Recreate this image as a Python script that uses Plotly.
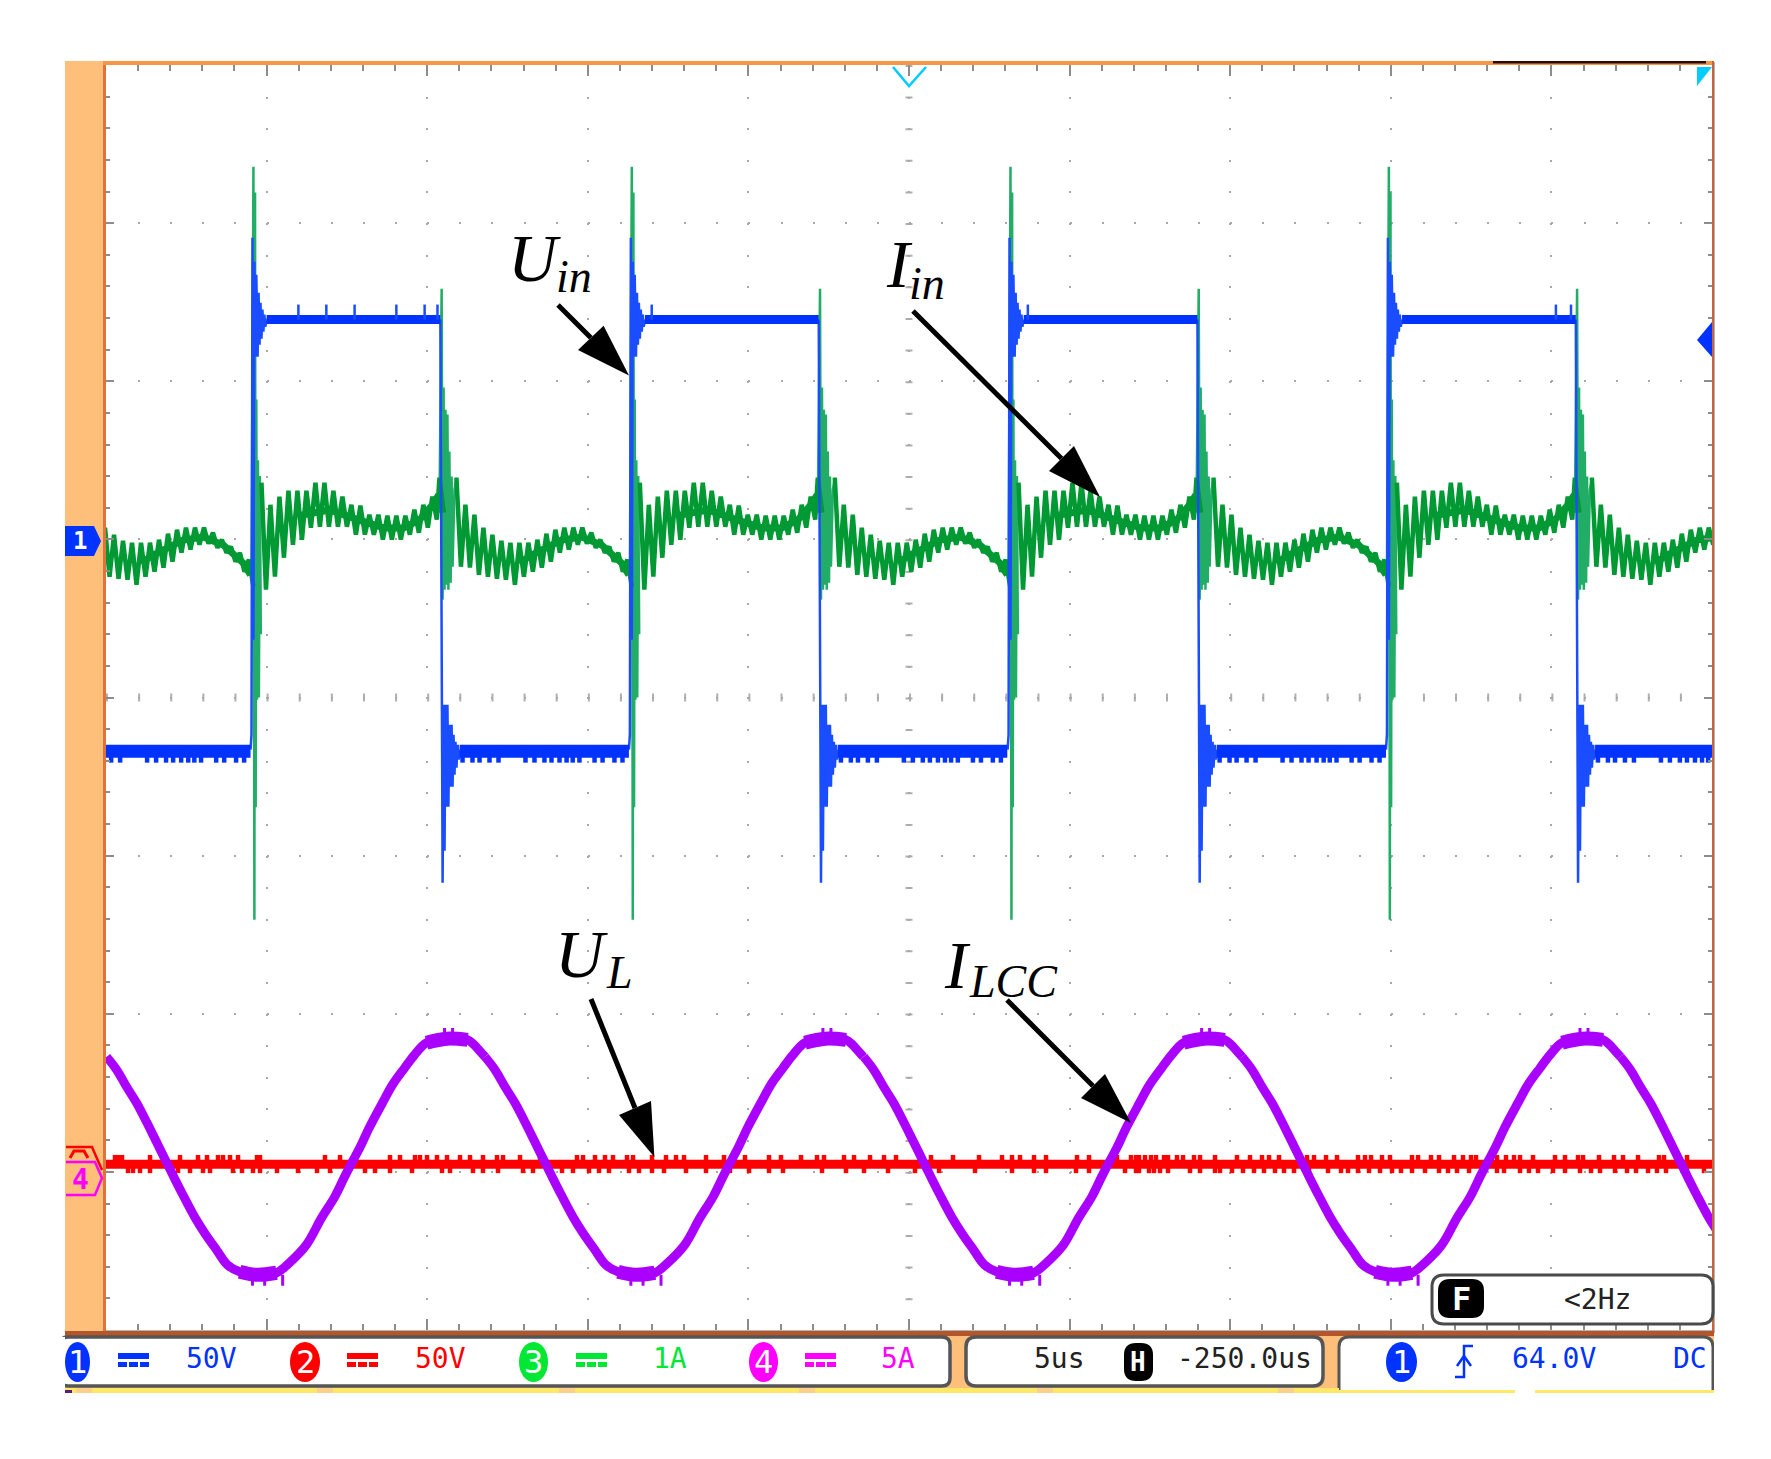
import plotly.graph_objects as go

W, H = 1771, 1459
L, R, T, B = 106, 1712, 65, 1330

# scope time axis: 5us/div, 10 div; vertical: 8 div, values in div from centre
RISE_US = [-7.22, 4.56, 16.34, 28.13, 39.91]   # read rising edges of Uin
SINE_START_US = [0, 11.78, 23.57, 35.35, 47.13]
US_PER_SAMPLE = 50 / 1606

# the trace repeats every switching period, so one period is read and reused
GREEN_OFF = [0.28, 0.56, 0.84, 1.12, 1.40, 1.68, 1.96, 2.24, 2.52, 2.80, 3.08, 3.36, 3.64, 3.92,
             4.20, 4.48, 4.76, 5.04, 5.32, 5.60, 5.82, 6.35, 6.63, 6.91, 7.19, 7.47, 7.75, 8.03,
             8.31, 8.59, 8.87, 9.15, 9.43, 9.71, 9.99, 10.27, 10.55, 10.83, 11.11, 11.39, 11.67]
GREEN_TOP = [1.359, 1.219, 1.270, 1.308, 1.308, 1.308, 1.359, 1.359, 1.308, 1.270, 1.219, 1.213,
             1.156, 1.156, 1.150, 1.150, 1.150, 1.188, 1.219, 1.270, 1.390, 1.390, 1.219, 1.156,
             1.074, 1.030, 0.992, 0.979, 0.979, 0.979, 0.998, 1.036, 1.061, 1.074, 1.074, 1.074,
             1.042, 0.998, 0.954, 0.916, 0.872]
GREEN_BOT = [0.682, 0.764, 0.884, 0.966, 0.998, 1.074, 1.080, 1.080, 1.080, 1.080, 1.030, 1.030,
             1.030, 0.998, 0.998, 0.998, 1.030, 1.042, 1.074, 1.125, 1.169, 0.827, 0.821, 0.776,
             0.764, 0.751, 0.745, 0.713, 0.764, 0.796, 0.821, 0.859, 0.916, 0.935, 0.966, 0.973,
             0.947, 0.916, 0.859, 0.796, 0.701]
GREEN_LAST_BEFORE_FALL = 5.82
# solid middle of the ripple band
GREEN_CORE_T = [1.46, 2.40, 3.30, 4.10, 4.70, 5.20, 5.60, 5.80, None, 8.31, 8.68, 9.62, 10.25, 10.87, 11.49, 11.72]
GREEN_CORE_V = [1.15, 1.186, 1.123, 1.072, 1.072, 1.123, 1.218, 1.281, None, 0.85, 0.90, 0.996, 1.015, 0.965, 0.851, 0.775]
GREEN_RISE_T = [-0.03, 0.03, 0.06, 0.08, 0.10, 0.12, 0.14, 0.17, 0.20, 0.23, 0.26]
GREEN_RISE_V = [0.764, 3.357, -1.405, 3.193, -0.694, 1.884, -0.014, 1.5, 0.0, 1.4, 0.4]
GREEN_FALL_T = [5.82, 5.89, 5.92, 5.95, 5.98, 6.01, 6.04, 6.07, 6.10, 6.13, 6.17, 6.20, 6.23, 6.29, 6.35]
GREEN_FALL_V = [1.169, 2.585, 0.619, 1.960, 0.682, 1.820, 0.713, 1.789, 0.682, 1.555, 0.726, 1.397,
                0.827, 1.314, 1.390]

BLUE_T = [-0.06, -0.03, 0.0, 0.03, 0.06, 0.09, 0.12, 0.16, 0.19, 0.22, 0.25, 0.28, 0.31, 0.34, 0.37,
          0.40, 0.44, None, 5.85, 5.88, 5.92, 5.95, 5.98, 6.01, 6.04, 6.07, 6.10, 6.13, 6.17, 6.20,
          6.23, 6.26, 6.29, 6.32, 6.35, 6.39, 6.42, 6.45]
BLUE_V = [-0.33, -0.235, 2.908, 0.366, 2.756, 2.155, 2.674, 2.155, 2.560, 2.231, 2.497, 2.269, 2.453,
          2.314, 2.421, 2.345, 2.390, None, 2.39, 1.2, -1.171, -0.046, -0.969, -0.046, -0.691, -0.046,
          -0.691, -0.172, -0.564, -0.172, -0.564, -0.235, -0.488, -0.280, -0.444, -0.299, -0.393, -0.33]
BLUE_HIGH = 2.39
BLUE_LOW = -0.34
BLUE_HIGH_SPAN = [0.44, 5.85]
BLUE_LOW_SPAN = [6.45, 11.72]
BLUE_HIGH_TEETH = [5.99, 6.86, 7.74, 9.04, 9.92, 10.32, 16.99, 28.70, 45.14, 45.61]
BLUE_HIGH_TOOTH_TOP = 2.485
BLUE_LOW_TEETH = [6.54, 6.85, 7.07, 7.38, 7.66, 8.50, 8.78, 9.09, 9.31, 9.56, 9.78, 9.97, 10.18,
                  10.65, 10.90, 11.27, 11.52]
BLUE_LOW_TOOTH_END = -0.412

RED_LEVEL = -2.951
RED_TOOTH_TOP = -2.893
RED_TOOTH_BOT = -3.008
RED_TOP_SAMPLES = [9, 12, 16, 44, 74, 92, 101, 112, 117, 124, 132, 151, 154, 219, 234, 284, 294, 309,
                   314, 321, 331, 341, 354, 364, 377, 391, 397, 414, 434, 471, 477, 489, 499, 507,
                   521, 527, 546, 560, 570, 578, 600, 618, 639, 663, 675, 695, 711, 718, 738, 748,
                   764, 778, 790, 825, 847, 873, 896, 906, 914, 928, 940, 971, 983, 1011, 1025,
                   1030, 1033, 1039, 1045, 1050, 1058, 1062, 1071, 1077, 1088, 1094, 1109, 1131,
                   1144, 1156, 1163, 1173, 1201, 1208, 1220, 1231, 1252, 1259, 1265, 1276, 1284,
                   1306, 1312, 1325, 1333, 1348, 1357, 1365, 1370, 1391, 1400, 1408, 1414, 1427,
                   1449, 1459, 1472, 1477, 1493, 1508, 1517, 1532, 1553, 1558, 1581]
RED_BOT_SAMPLES = [22, 27, 34, 44, 72, 84, 97, 104, 127, 136, 147, 154, 171, 192, 211, 224, 259, 269,
                   284, 306, 336, 344, 367, 377, 392, 417, 427, 442, 456, 467, 483, 493, 503, 523,
                   533, 546, 558, 580, 600, 624, 643, 663, 677, 716, 740, 758, 782, 809, 833, 869,
                   906, 928, 940, 970, 983, 1019, 1030, 1033, 1043, 1048, 1054, 1062, 1084, 1094,
                   1109, 1114, 1126, 1137, 1148, 1158, 1169, 1178, 1188, 1203, 1222, 1235, 1242,
                   1252, 1263, 1274, 1286, 1295, 1306, 1319, 1333, 1342, 1351, 1363, 1391, 1398,
                   1414, 1423, 1432, 1447, 1459, 1474, 1485, 1494, 1509, 1521, 1530, 1542, 1551,
                   1560, 1581, 1598]

PURPLE_T = [0.02, 0.33, 0.64, 0.95, 1.26, 1.57, 1.88, 2.13, 2.38, 2.76, 3.07, 3.44, 3.78, 4.16, 4.69,
            5.31, 5.71, 6.24, 6.71, 7.12, 7.43, 7.65, 7.90, 8.21, 8.61, 8.92, 9.30, 9.61, 9.98,
            10.61, 11.26, 11.69, 11.80]
PURPLE_V = [-2.272, -2.354, -2.462, -2.563, -2.683, -2.810, -2.937, -3.040, -3.140, -3.285, -3.386,
            -3.493, -3.588, -3.632, -3.651, -3.638, -3.575, -3.461, -3.291, -3.158, -3.030, -2.943,
            -2.848, -2.715, -2.563, -2.449, -2.342, -2.259, -2.183, -2.158, -2.165, -2.247, -2.272]
PURPLE_PEAK_TEETH = [10.54, 10.79]
PURPLE_PEAK_TOP = -2.09
PURPLE_TROUGH_TEETH = [4.56, 4.94, 5.5]
PURPLE_TROUGH_BOT = -3.72

BLUE = "#0033ff"
GREEN = "#009933"
RED = "#ff0000"
PURPLE = "#aa00ff"
MAGENTA = "#ff00ff"
LIME = "#00e834"
ORANGE = "#fdbf7a"
MONO = "DejaVu Sans Mono"


def per_period(starts, offs, vals):
    xs, ys = [], []
    for s in starts:
        for o, v in zip(offs, vals):
            xs.append(None if o is None else s + o)
            ys.append(v)
        xs.append(None)
        ys.append(None)
    return xs, ys


def spikes(times, y0, y1):
    xs, ys = [], []
    for t in times:
        xs += [t, t, None]
        ys += [y0, y1, None]
    return xs, ys


def line(xs, ys, color, width, shape="linear"):
    return go.Scatter(x=xs, y=ys, mode="lines", line=dict(color=color, width=width, shape=shape),
                      hoverinfo="skip", showlegend=False)


green_t, green_v = [], []
for o, a, b in zip(GREEN_OFF, GREEN_TOP, GREEN_BOT):
    green_t += [o, o + 0.14]
    green_v += [a, b]
    if o == GREEN_LAST_BEFORE_FALL:   # the fall ring trace bridges this gap
        green_t.append(None)
        green_v.append(None)

traces = []
x, y = per_period(RISE_US, GREEN_RISE_T, GREEN_RISE_V)
traces.append(line(x, y, "#22ad66", 2.5))
x, y = per_period(RISE_US, GREEN_FALL_T, GREEN_FALL_V)
traces.append(line(x, y, "#22ad66", 2.5))
x, y = per_period(RISE_US, green_t, green_v)
traces.append(line(x, y, GREEN, 4.5))
x, y = per_period(RISE_US, GREEN_CORE_T, GREEN_CORE_V)
traces.append(line(x, y, GREEN, 7))

x, y = per_period(RISE_US, BLUE_T, BLUE_V)
traces.append(line(x, y, "#1a4dff", 2.5))
x, y = per_period(RISE_US, BLUE_HIGH_SPAN, [BLUE_HIGH, BLUE_HIGH])
traces.append(line(x, y, BLUE, 9))
x, y = per_period(RISE_US, BLUE_LOW_SPAN, [BLUE_LOW, BLUE_LOW])
traces.append(line(x, y, BLUE, 13))
x, y = spikes(BLUE_HIGH_TEETH, BLUE_HIGH, BLUE_HIGH_TOOTH_TOP)
traces.append(line(x, y, "#1a4dff", 2.5))
x, y = [], []
for s in RISE_US:
    a, b = spikes([s + t for t in BLUE_LOW_TEETH], BLUE_LOW, BLUE_LOW_TOOTH_END)
    x += a
    y += b
traces.append(line(x, y, BLUE, 4.5))

traces.append(line([0, 50], [RED_LEVEL, RED_LEVEL], RED, 9))
x, y = spikes([s * US_PER_SAMPLE for s in RED_TOP_SAMPLES], RED_LEVEL, RED_TOOTH_TOP)
traces.append(line(x, y, RED, 4.5))
x, y = spikes([s * US_PER_SAMPLE for s in RED_BOT_SAMPLES], RED_LEVEL, RED_TOOTH_BOT)
traces.append(line(x, y, RED, 4.5))

x, y = per_period(SINE_START_US, PURPLE_T, PURPLE_V)
traces.append(line(x, y, PURPLE, 9, "spline"))
# the flat tops and bottoms of the sine read as a wider band
x, y = per_period(SINE_START_US, PURPLE_T[28:31], PURPLE_V[28:31])
traces.append(line(x, y, PURPLE, 14, "spline"))
x, y = per_period(SINE_START_US, PURPLE_T[13:16], PURPLE_V[13:16])
traces.append(line(x, y, PURPLE, 14, "spline"))
x, y = [], []
for s in SINE_START_US:
    a, b = spikes([s + t for t in PURPLE_PEAK_TEETH], PURPLE_V[29], PURPLE_PEAK_TOP)
    x += a
    y += b
    a, b = spikes([s + t for t in PURPLE_TROUGH_TEETH], PURPLE_V[14], PURPLE_TROUGH_BOT)
    x += a
    y += b
traces.append(line(x, y, PURPLE, 3))

fig = go.Figure(traces)


# chrome and callouts are laid out in page pixels, converted to paper coordinates
def px(v):
    return (v - L) / (R - L)


def py(v):
    return (B - v) / (B - T)


def poly(points, close=True):
    d = "M" + " L".join(f"{px(a):.5f},{py(b):.5f}" for a, b in points)
    return d + (" Z" if close else "")


def rbox(x0, y0, x1, y1, r):
    p = [("M", x0 + r, y0), ("L", x1 - r, y0), ("Q", x1, y0, x1, y0 + r), ("L", x1, y1 - r),
         ("Q", x1, y1, x1 - r, y1), ("L", x0 + r, y1), ("Q", x0, y1, x0, y1 - r), ("L", x0, y0 + r),
         ("Q", x0, y0, x0 + r, y0)]
    out = ""
    for seg in p:
        out += seg[0]
        nums = seg[1:]
        out += " ".join(f"{px(nums[i]):.5f},{py(nums[i + 1]):.5f}" for i in range(0, len(nums), 2)) + " "
    return out + "Z"


shapes = []


def rect(x0, y0, x1, y1, color):
    shapes.append(dict(type="rect", xref="paper", yref="paper", x0=px(x0), x1=px(x1), y0=py(y0),
                       y1=py(y1), fillcolor=color, line=dict(width=0), layer="above"))


def path(d, fill=None, color=None, width=0):
    shapes.append(dict(type="path", xref="paper", yref="paper", path=d, fillcolor=fill,
                       line=dict(color=color or "rgba(0,0,0,0)", width=width), layer="above"))


def oval(x0, y0, x1, y1, color):
    shapes.append(dict(type="circle", xref="paper", yref="paper", x0=px(x0), x1=px(x1), y0=py(y0),
                       y1=py(y1), fillcolor=color, line=dict(width=0), layer="above"))


# wide dots on the centre cross of the graticule
shapes.append(dict(type="line", xref="paper", yref="paper", x0=0.5, x1=0.5, y0=1, y1=0, layer="below",
                   line=dict(color="#b0b0b0", width=7, dash="2px,29.62px")))
shapes.append(dict(type="line", xref="paper", yref="paper", x0=0, x1=1, y0=0.5, y1=0.5, layer="below",
                   line=dict(color="#b0b0b0", width=8, dash="2px,30.12px")))

# frame
rect(65, 61, 103, 1336, ORANGE)
rect(103, 61, 106, 1331, "#e2723c")
rect(103, 61, 1714, 65, "#f79646")
rect(1493, 61, 1706, 63.5, "#2a0a00")
rect(1712, 61, 1714, 1331, "#c8643c")
rect(65, 1331, 1714, 1336, "#b4552a")

# footer
rect(65, 1336, 1714, 1391, ORANGE)
path(rbox(60, 1337, 950, 1386, 8), "#ffffff", "#555555", 3.5)
path(rbox(966, 1337, 1323, 1386, 10), "#ffffff", "#555555", 3.5)
path(rbox(1339, 1337, 1713, 1400, 10), "#ffffff", "#555555", 3)
rect(55, 1388, 1339, 1393, "#ffe866")
rect(1339, 1390, 1515, 1393, "#ffe866")
rect(1535, 1390, 1714, 1393, "#ffe866")
rect(1336, 1393, 1716, 1402, "#ffffff")
rect(1714, 1336, 1716, 1394, "#ffffff")
rect(55, 1337, 65, 1396, "#ffffff")
rect(65, 1390, 72, 1393, "#5a1e78")
for cx in [84, 325, 567, 807, 1045, 1286]:
    rect(cx - 8, 1388, cx + 8, 1393, "#fbd08a")

oval(65, 1342, 90, 1382, BLUE)
oval(290, 1342, 320, 1382, RED)
oval(519, 1342, 548, 1382, LIME)
oval(749, 1342, 778, 1382, MAGENTA)
oval(1386, 1342, 1417, 1382, BLUE)
rect(55, 1340, 65, 1384, "#ffffff")
for bx, c in [(118, BLUE), (347, RED), (576, LIME), (805, MAGENTA)]:
    rect(bx, 1353, bx + 31, 1359, c)
    for i in range(3):
        rect(bx + i * 11, 1362, bx + i * 11 + 9, 1367, c)
path(rbox(1124, 1343, 1153, 1381, 12), "#000000")
path(poly([(1473, 1346), (1464, 1346), (1464, 1377), (1455, 1377)], close=False), None, BLUE, 2.5)
path(poly([(1457, 1366), (1464, 1356), (1471, 1366)], close=False), None, BLUE, 2.5)

path(rbox(1432, 1275, 1713, 1324, 12), "#ffffff", "#4a4a4a", 3)
path(rbox(1438, 1279, 1484, 1318, 12), "#000000")

# channel and trigger markers
path(poly([(65, 526), (94, 526), (101, 541), (94, 556), (65, 556)]), BLUE)
path(poly([(66, 1147), (92, 1147), (102, 1170)], close=False), None, RED, 2.5)
path(poly([(70, 1158), (74, 1151), (84, 1151), (88, 1158)], close=False), None, RED, 3)
path(poly([(66, 1162), (95, 1162), (102, 1178), (95, 1195), (66, 1195)], close=False), ORANGE, MAGENTA, 2.5)
path(poly([(893, 67), (909, 86), (926, 67)], close=False), None, "#00ccff", 2.5)
path(poly([(1697, 67), (1712, 67), (1697, 86)]), "#00ccff")
path(poly([(1697, 340), (1712, 322), (1712, 357)]), BLUE)

# callout arrows: shaft start, tip, two head corners
CALLOUTS = [
    ((558, 305), (629, 375.5), (603.6, 325.7), (578, 350)),
    ((913, 311), (1100, 497), (1074, 446), (1049, 471)),
    ((591, 999), (654.4, 1157), (651, 1101), (619, 1115)),
    ((1007, 1000), (1131, 1123), (1105, 1074), (1081, 1098)),
]
for start, tip, b1, b2 in CALLOUTS:
    mid = ((b1[0] + b2[0]) / 2, (b1[1] + b2[1]) / 2)
    path(poly([start, mid], close=False), None, "#000000", 5)
    path(poly([tip, b1, b2]), "#000000")

annotations = []


def label(text, x0, y0, size, color="#000000", family=MONO):
    annotations.append(dict(text=text, xref="paper", yref="paper", x=px(x0), y=py(y0), showarrow=False,
                            xanchor="center", yanchor="middle", font=dict(family=family, size=size, color=color)))


label("50V", 211, 1358, 28, BLUE)
label("50V", 440, 1358, 28, RED)
label("1A", 670, 1358, 28, LIME)
label("5A", 898, 1358, 28, MAGENTA)
label("5us", 1059, 1358, 28, "#222222")
label("-250.0us", 1244, 1358, 28, "#222222")
label("64.0V", 1554, 1358, 28, BLUE)
label("DC", 1690, 1358, 28, BLUE)
label("<2Hz", 1597, 1299, 28, "#222222")
label("1", 77, 1362, 32, "#ffffff")
label("2", 305, 1362, 32, "#ffffff")
label("3", 533, 1362, 32, "#ffffff")
label("4", 763, 1362, 32, "#ffffff")
label("1", 1401, 1362, 32, "#ffffff")
label("<b>H</b>", 1138, 1362, 26, "#ffffff")
label("<b>F</b>", 1461, 1299, 32, "#ffffff")
label("<b>1</b>", 80, 541, 24, "#ffffff")
label("<b>4</b>", 80, 1179, 28, MAGENTA)

SERIF = "Liberation Serif"
label("<i>U</i>", 534, 258, 68, family=SERIF)
label("<i>in</i>", 574, 276, 46, family=SERIF)
label("<i>I</i>", 899, 264, 68, family=SERIF)
label("<i>in</i>", 927, 283, 46, family=SERIF)
label("<i>U</i>", 581, 954, 68, family=SERIF)
label("<i>L</i>", 619, 972, 46, family=SERIF)
label("<i>I</i>", 957, 965, 68, family=SERIF)
label("<i>LCC</i>", 1013, 981, 46, family=SERIF)

TICK = "#8c8c8c"
fig.update_layout(
    width=W, height=H, autosize=False, showlegend=False,
    margin=dict(l=L, r=W - R, t=T, b=H - B, pad=0),
    paper_bgcolor="#ffffff", plot_bgcolor="#ffffff",
    shapes=shapes, annotations=annotations,
)
fig.update_xaxes(
    range=[0, 50], dtick=5, tick0=0, showticklabels=False, zeroline=False,
    showgrid=True, gridcolor="#a8a8a8", gridwidth=2, griddash="2px,29.62px",
    ticks="inside", ticklen=11, tickwidth=1.5, tickcolor=TICK, mirror="allticks",
    showline=True, linecolor="#b0b4b8", linewidth=3,
    minor=dict(dtick=1, ticks="inside", ticklen=6, tickwidth=1.5, tickcolor=TICK, showgrid=False),
)
fig.update_yaxes(
    range=[-4, 4], dtick=1, tick0=0, showticklabels=False, zeroline=False,
    showgrid=True, gridcolor="#a8a8a8", gridwidth=2, griddash="2px,30.12px",
    ticks="inside", ticklen=8, tickwidth=1.5, tickcolor=TICK, mirror="allticks",
    showline=True, linecolor="#b0b4b8", linewidth=3,
    minor=dict(dtick=0.2, ticks="inside", ticklen=4, tickwidth=2, tickcolor=TICK, showgrid=False),
)

fig.write_html("out.html", config={"displayModeBar": False}, post_script="document.body.style.margin='0';")
